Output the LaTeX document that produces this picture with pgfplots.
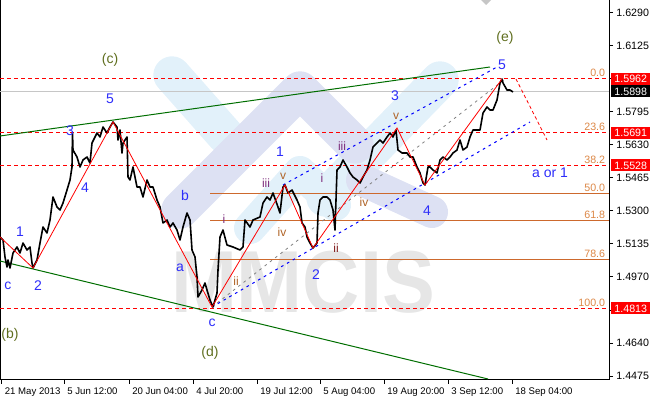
\documentclass[border=0pt]{standalone}
\usepackage{fontspec}
\setmainfont{Liberation Sans}
\usepackage{pgfplots}
\pgfplotsset{compat=1.18}

\definecolor{wavblue}{RGB}{45,45,250}
\definecolor{olivelbl}{RGB}{95,110,30}
\definecolor{romp}{RGB}{125,45,125}
\definecolor{romb}{RGB}{175,100,40}
\definecolor{romr}{RGB}{130,30,30}
\definecolor{fibtxt}{RGB}{220,135,70}
\definecolor{fibline}{RGB}{205,105,45}
\definecolor{chgreen}{RGB}{0,110,0}
\definecolor{wmblue}{RGB}{226,241,250}
\definecolor{wmlav}{RGB}{221,225,243}
\definecolor{wmgray}{RGB}{230,230,230}

\newcommand{\tk}{\fontsize{8}{9.6}\selectfont}
\newcommand{\xk}{\fontsize{7.2}{8.6}\selectfont}
\newcommand{\wl}{\fontsize{10.5}{12}\selectfont}
\newcommand{\rl}{\fontsize{9}{11}\selectfont}

\begin{document}
\begin{tikzpicture}
% watermark (pixel units, y downwards from the top of the plot)
\begin{scope}[x=0.75pt,y=-0.75pt,shift={(0pt,284.625pt)},line cap=round,line join=round]
  \draw[wmblue,line width=28pt] (172,75) -- (225,135);
  \draw[wmblue,line width=28pt] (440,80) -- (325,198);
  \draw[wmlav,line width=24pt] (362,180) -- (432,212);
  \draw[wmlav,line width=28pt] (180,210) -- (300,90) -- (355,145);
  \draw[wmblue,line width=24pt] (250,228) -- (300,172) -- (335,205);
  \node[wmgray,font=\fontsize{66}{68}\selectfont\bfseries,xscale=0.9] at (303,282) {MMCIS};
  \fill[gray!45] (481,0) -- (491,0) -- (486,5) -- cycle;
\end{scope}

\begin{axis}[
  scale only axis, width=456.75pt, height=284.625pt,
  xmin=0, xmax=609, ymin=1.44575, ymax=1.6355,
  clip=false,
  axis line style={line width=0.75pt},
  tick align=outside, major tick length=3pt,
  tick style={black,line width=0.75pt},
  xtick pos=lower, ytick pos=right,
  yticklabel pos=right,
  xtick={1.5,64,129,193,257,320,384,448,512},
  xticklabels={21 May 2013,5 Jun 12:00,20 Jun 04:00,4 Jul 20:00,19 Jul 12:00,5 Aug 04:00,19 Aug 20:00,3 Sep 12:00,18 Sep 04:00},
  xticklabel style={anchor=north west,font=\xk,xshift=-1pt,yshift=0.5pt},
  ytick={1.4475,1.4640,1.4805,1.4970,1.5135,1.5300,1.5465,1.5630,1.5795,1.5960,1.6125,1.6290},
  yticklabels={1.4475,1.4640,,1.4970,1.5135,1.5300,1.5465,1.5630,1.5795,,1.6125,1.6290},
  yticklabel style={anchor=west,font=\tk,xshift=-1pt},
]
% fibonacci levels and reference lines
\addplot[red,line width=0.75pt,dash pattern=on 3pt off 2.25pt] coordinates {(0,1.5962) (609,1.5962)};
\addplot[red,line width=0.75pt,dash pattern=on 3pt off 2.25pt] coordinates {(0,1.5691) (609,1.5691)};
\addplot[red,line width=0.75pt,dash pattern=on 3pt off 2.25pt] coordinates {(0,1.5528) (609,1.5528)};
\addplot[red,line width=0.75pt,dash pattern=on 3pt off 2.25pt] coordinates {(0,1.4813) (609,1.4813)};
\addplot[fibline,line width=0.75pt] coordinates {(210,1.53875) (609,1.53875)};
\addplot[fibline,line width=0.75pt] coordinates {(210,1.52519) (609,1.52519)};
\addplot[fibline,line width=0.75pt] coordinates {(210,1.50589) (609,1.50589)};
\addplot[gray!45,line width=0.75pt] coordinates {(0,1.5898) (609,1.5898)};

% channels
\addplot[chgreen,line width=0.75pt] coordinates {(0,1.5675) (490,1.6020)};
\addplot[chgreen,line width=0.75pt] coordinates {(0,1.5050) (488,1.4460)};
\addplot[blue,line width=0.75pt,dash pattern=on 2pt off 3pt] coordinates {(212,1.4820) (530,1.5745)};
\addplot[blue,line width=0.75pt,dash pattern=on 2pt off 3pt] coordinates {(283,1.5430) (497,1.6020)};
\addplot[gray,line width=0.6pt,dash pattern=on 2pt off 3pt] coordinates {(212,1.4820) (505,1.5960)};

% price
\addplot[black,line width=1.2pt,line join=round] coordinates {
(0,1.5170) (3,1.5155) (5,1.5070) (7,1.5020) (8,1.5055) (10,1.5015) (13,1.5090) (17,1.5120)
(20,1.5090) (23,1.5140) (27,1.5105) (30,1.5120) (32,1.5040) (33,1.5015) (37,1.5055) (40,1.5140)
(43,1.5220) (47,1.5190) (50,1.5255) (53,1.5370) (57,1.5320) (60,1.5305) (63,1.5340) (67,1.5405)
(70,1.5455) (72,1.5520) (72.5,1.5690) (73,1.5605) (77,1.5570) (80,1.5520) (83,1.5555) (87,1.5570)
(90,1.5540) (92,1.5640) (97,1.5690) (100,1.5670) (103,1.5720) (107,1.5690) (110,1.5720) (113,1.5745)
(117,1.5720) (118,1.5655) (120,1.5705) (122,1.5590) (123,1.5640) (127,1.5670) (128,1.5470) (130,1.5455)
(133,1.5520) (137,1.5420) (140,1.5420) (143,1.5370) (147,1.5455) (150,1.5420) (153,1.5420) (157,1.5355)
(160,1.5320) (163,1.5240) (167,1.5255) (170,1.5220) (173,1.5240) (177,1.5205) (180,1.5155) (183,1.5220)
(187,1.5290) (190,1.5255) (192,1.5105) (195,1.5070) (197,1.4970) (198,1.4870) (202,1.4905) (205,1.4940)
(207,1.4905) (210,1.4855) (213,1.4820) (217,1.4890) (218,1.5005) (220,1.5170) (223,1.5205) (227,1.5130)
(233,1.5120) (240,1.5105) (243,1.5120) (245,1.5255) (250,1.5220) (253,1.5255) (260,1.5270) (263,1.5340)
(267,1.5370) (270,1.5355) (273,1.5390) (278,1.5320) (280,1.5290) (283,1.5420) (285,1.5430) (288,1.5390)
(292,1.5405) (297,1.5355) (300,1.5320) (302,1.5240) (305,1.5220) (307,1.5170) (310,1.5140) (313,1.5115)
(317,1.5140) (318,1.5290) (320,1.5355) (323,1.5370) (327,1.5370) (330,1.5355) (333,1.5305) (335,1.5205)
(337,1.5505) (340,1.5520) (343,1.5555) (347,1.5520) (350,1.5490) (353,1.5470) (357,1.5455) (360,1.5440)
(363,1.5470) (367,1.5505) (370,1.5555) (373,1.5620) (377,1.5640) (380,1.5655) (383,1.5640) (387,1.5670)
(390,1.5690) (393,1.5670) (396,1.5705) (398,1.5605) (402,1.5590) (407,1.5590) (410,1.5570) (413,1.5570)
(417,1.5520) (420,1.5490) (423,1.5440) (425,1.5430) (428,1.5520) (430,1.5520) (433,1.5505) (437,1.5490)
(440,1.5555) (443,1.5570) (447,1.5555) (450,1.5570) (453,1.5590) (457,1.5605) (460,1.5655) (463,1.5605)
(467,1.5620) (470,1.5670) (473,1.5705) (477,1.5705) (480,1.5705) (483,1.5790) (487,1.5820) (490,1.5805)
(493,1.5805) (497,1.5855) (500,1.5940) (502,1.5960) (503,1.5940) (507,1.5905) (510,1.5905) (513,1.5895)
};

% wave lines
\addplot[red,line width=0.6pt] coordinates {(0,1.5170) (33,1.5015) (113,1.5745) (212,1.4820) (285,1.5430) (313,1.5115) (397,1.5715) (425,1.5430) (502,1.5960)};
\addplot[red,line width=0.6pt,dash pattern=on 2.5pt off 2pt] coordinates {(516,1.5960) (547,1.5655)};

% fib texts
\node[fibtxt,font=\tk,anchor=south east,inner sep=1.2pt] at (607,1.5962) {0.0};
\node[fibtxt,font=\tk,anchor=south east,inner sep=1.2pt] at (607,1.5691) {23.6};
\node[fibtxt,font=\tk,anchor=south east,inner sep=1.2pt] at (607,1.5528) {38.2};
\node[fibtxt,font=\tk,anchor=south east,inner sep=1.2pt] at (607,1.53875) {50.0};
\node[fibtxt,font=\tk,anchor=south east,inner sep=1.2pt] at (607,1.52519) {61.8};
\node[fibtxt,font=\tk,anchor=south east,inner sep=1.2pt] at (607,1.50589) {78.6};
\node[fibtxt,font=\tk,anchor=south east,inner sep=1.2pt] at (607,1.4813) {100.0};

% price boxes
\node[fill=red,text=white,font=\tk,anchor=west,minimum width=29.25pt,minimum height=9pt,inner sep=0pt] at (611,1.5962) {1.5962};
\node[fill=black,text=white,font=\tk,anchor=west,minimum width=29.25pt,minimum height=9pt,inner sep=0pt] at (611,1.5898) {1.5898};
\node[fill=red,text=white,font=\tk,anchor=west,minimum width=29.25pt,minimum height=9pt,inner sep=0pt] at (611,1.5691) {1.5691};
\node[fill=red,text=white,font=\tk,anchor=west,minimum width=29.25pt,minimum height=9pt,inner sep=0pt] at (611,1.5528) {1.5528};
\node[fill=red,text=white,font=\tk,anchor=west,minimum width=29.25pt,minimum height=9pt,inner sep=0pt] at (611,1.4813) {1.4813};

% wave labels
\node[olivelbl,font=\wl] at (110,1.6055) {(c)};
\node[olivelbl,font=\wl] at (505,1.6165) {(e)};
\node[olivelbl,font=\wl] at (210,1.4590) {(d)};
\node[olivelbl,font=\wl] at (10,1.4680) {(b)};
\node[wavblue,font=\wl] at (8,1.4925) {c};
\node[wavblue,font=\wl] at (20,1.5195) {1};
\node[wavblue,font=\wl] at (38,1.4925) {2};
\node[wavblue,font=\wl] at (70,1.5700) {3};
\node[wavblue,font=\wl] at (85,1.5415) {4};
\node[wavblue,font=\wl] at (110,1.5860) {5};
\node[wavblue,font=\wl] at (185,1.5380) {b};
\node[wavblue,font=\wl] at (180,1.5015) {a};
\node[wavblue,font=\wl] at (212,1.4740) {c};
\node[wavblue,font=\wl] at (280,1.5595) {1};
\node[wavblue,font=\wl] at (316,1.4980) {2};
\node[wavblue,font=\wl] at (395,1.5875) {3};
\node[wavblue,font=\wl] at (427,1.5300) {4};
\node[wavblue,font=\wl] at (502,1.6030) {5};
\node[wavblue,font=\wl] at (550,1.5490) {a or 1};
\node[romp,font=\rl] at (224,1.5260) {i};
\node[romb,font=\rl] at (236,1.4950) {ii};
\node[romp,font=\rl] at (266,1.5440) {iii};
\node[romb,font=\rl] at (282,1.5195) {iv};
\node[romb,font=\rl] at (283,1.5475) {v};
\node[romp,font=\rl] at (322,1.5465) {i};
\node[romr,font=\rl] at (336,1.5115) {ii};
\node[romp,font=\rl] at (342,1.5625) {iii};
\node[romb,font=\rl] at (364,1.5345) {iv};
\node[romb,font=\rl] at (396,1.5775) {v};
\end{axis}
\pgfresetboundingbox
\path (0pt,-15.375pt) rectangle (487.5pt,284.625pt);
\end{tikzpicture}
\end{document}
